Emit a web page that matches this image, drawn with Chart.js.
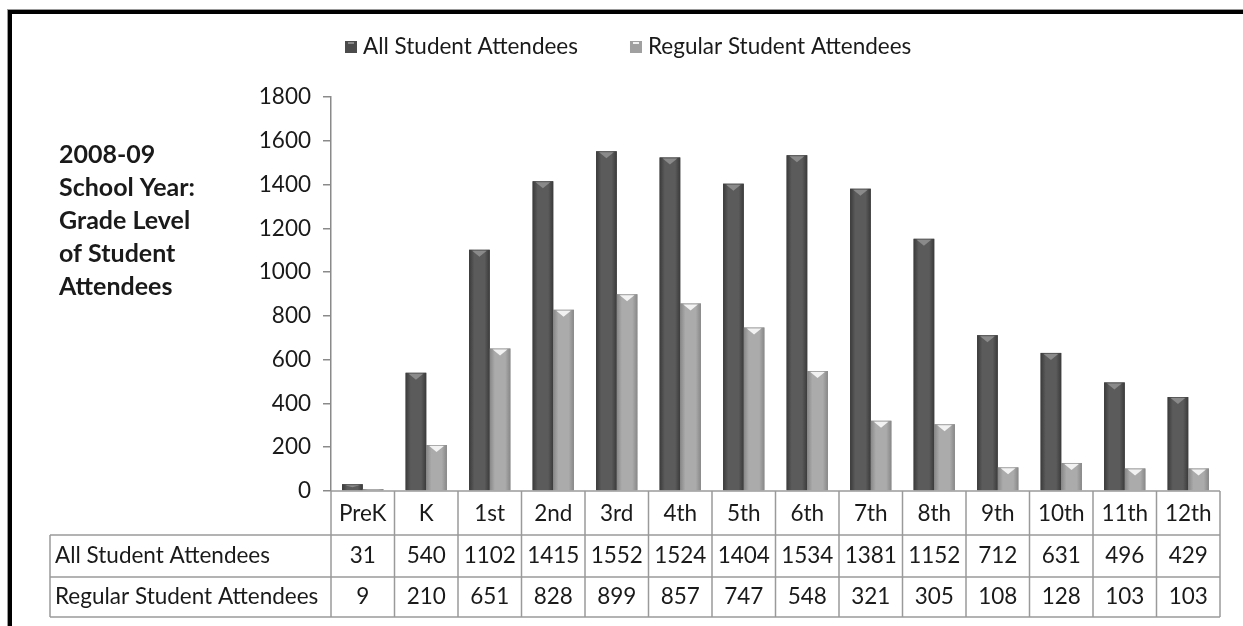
<!DOCTYPE html>
<html>
<head>
<meta charset="utf-8">
<script src="https://cdn.jsdelivr.net/npm/chart.js@4.4.1/dist/chart.umd.min.js"></script>
<style>
  html, body { margin: 0; padding: 0; background: #fff; }
  #wrap { position: relative; width: 1243px; height: 626px; }
  #frame {
    position: absolute; left: 8px; top: 10px; width: 1300px; height: 700px;
    border-top: 4px solid #000; border-left: 4px solid #000;
    box-shadow: -1px -1px 0 #999; pointer-events: none;
  }
</style>
</head>
<body>
<div id="wrap">
  <canvas id="chart" width="1243" height="626"></canvas>
  <div id="frame"></div>
</div>
<script>
const grades = ['PreK', 'K', '1st', '2nd', '3rd', '4th', '5th', '6th', '7th', '8th', '9th', '10th', '11th', '12th'];
const allAttendees = [31, 540, 1102, 1415, 1552, 1524, 1404, 1534, 1381, 1152, 712, 631, 496, 429];
const regularAttendees = [9, 210, 651, 828, 899, 857, 747, 548, 321, 305, 108, 128, 103, 103];
const seriesNames = ['All Student Attendees', 'Regular Student Attendees'];
const titleLines = ['2008-09', 'School Year:', 'Grade Level', 'of Student', 'Attendees'];

const FONT = 'Lato, "Open Sans", sans-serif';
const TXT = 22.5;

const shades = [
  { edge: '#3a3a3a', mid: '#5b5b5b', tip: '#8a8a8a', box: '#4b4b4b' },
  { edge: '#878787', mid: '#ababab', tip: '#f2f2f2', box: '#a0a0a0' }
];

// shaded look of the bars + the top bevel
const bevelBars = {
  id: 'bevelBars',
  afterDatasetsDraw(chart) {
    const ctx = chart.ctx;
    chart.data.datasets.forEach((ds, di) => {
      const s = shades[di];
      chart.getDatasetMeta(di).data.forEach(bar => {
        const l = bar.x - bar.width / 2, r = bar.x + bar.width / 2;
        const top = bar.y, bottom = bar.base;
        const g = ctx.createLinearGradient(l, 0, r, 0);
        g.addColorStop(0, s.edge);
        g.addColorStop(0.25, s.mid);
        g.addColorStop(0.75, s.mid);
        g.addColorStop(1, s.edge);
        ctx.save();
        ctx.fillStyle = g;
        ctx.fillRect(l, top, r - l, bottom - top);
        const h = Math.min(7, (bottom - top) / 2);
        if (h > 1) {
          ctx.fillStyle = s.tip;
          ctx.beginPath();
          ctx.moveTo(l + 3, top + 1);
          ctx.lineTo(r - 3, top + 1);
          ctx.lineTo(bar.x, top + h);
          ctx.closePath();
          ctx.fill();
        }
        ctx.restore();
      });
    });
  }
};

// legend, data table under the plot and the title text on the left
const dataTable = {
  id: 'dataTable',
  afterDraw(chart) {
    const ctx = chart.ctx;
    const x = chart.scales.x;
    const area = chart.chartArea;
    const n = grades.length;
    const cw = (area.right - area.left) / n;
    const rows = [area.bottom, area.bottom + 44, area.bottom + 86, area.bottom + 126];
    const labelLeft = 50;
    ctx.save();
    ctx.strokeStyle = '#9a9a9a';
    ctx.lineWidth = 1.5;
    ctx.beginPath();
    ctx.moveTo(area.left, rows[0]); ctx.lineTo(area.right, rows[0]);
    for (let r = 1; r < 4; r++) {
      ctx.moveTo(labelLeft, rows[r]); ctx.lineTo(area.right, rows[r]);
    }
    ctx.moveTo(labelLeft, rows[1]); ctx.lineTo(labelLeft, rows[3]);
    for (let i = 0; i <= n; i++) {
      const px = area.left + i * cw;
      ctx.moveTo(px, rows[0]); ctx.lineTo(px, rows[3]);
    }
    ctx.stroke();

    ctx.fillStyle = '#1a1a1a';
    ctx.font = TXT + 'px ' + FONT;
    ctx.textBaseline = 'middle';
    ctx.textAlign = 'center';
    grades.forEach((g, i) => {
      const cx = x.getPixelForValue(i);
      ctx.fillText(g, cx, (rows[0] + rows[1]) / 2 + 1);
      ctx.fillText(String(allAttendees[i]), cx, (rows[1] + rows[2]) / 2);
      ctx.fillText(String(regularAttendees[i]), cx, (rows[2] + rows[3]) / 2);
    });
    ctx.textAlign = 'left';
    ctx.fillText(seriesNames[0], labelLeft + 5, (rows[1] + rows[2]) / 2);
    ctx.fillText(seriesNames[1], labelLeft + 5, (rows[2] + rows[3]) / 2);

    // legend
    let lx = 345;
    seriesNames.forEach((name, i) => {
      ctx.fillStyle = shades[i].box;
      ctx.fillRect(lx, 41, 12, 12);
      ctx.fillStyle = shades[i].tip;
      ctx.fillRect(lx + 3, 42, 6, 2);
      ctx.fillStyle = '#1a1a1a';
      ctx.fillText(name, lx + 18, 47);
      lx += 18 + ctx.measureText(name).width + 52;
    });

    ctx.font = 'bold 25px ' + FONT;
    titleLines.forEach((t, i) => ctx.fillText(t, 59, 155 + i * 33));
    ctx.restore();
  }
};

new Chart(document.getElementById('chart'), {
  type: 'bar',
  data: {
    labels: grades,
    datasets: [
      { label: seriesNames[0], data: allAttendees, backgroundColor: shades[0].box },
      { label: seriesNames[1], data: regularAttendees, backgroundColor: shades[1].box }
    ]
  },
  options: {
    responsive: false,
    animation: false,
    layout: { padding: { left: 0, right: 23, top: 97, bottom: 135 } },
    datasets: { bar: { categoryPercentage: 0.65, barPercentage: 1.0 } },
    plugins: {
      legend: { display: false },
      tooltip: { enabled: false }
    },
    scales: {
      x: { display: false },
      y: {
        min: 0, max: 1800,
        ticks: {
          stepSize: 200, color: '#1a1a1a', font: { family: FONT, size: TXT }, padding: 12,
          callback: v => String(v)
        },
        grid: { drawOnChartArea: false, tickLength: 8, color: '#8a8a8a', lineWidth: 1.5 },
        border: { color: '#8a8a8a', width: 1.5 },
        afterFit(scale) { scale.width = 331; }
      }
    }
  },
  plugins: [bevelBars, dataTable]
});
</script>
</body>
</html>
